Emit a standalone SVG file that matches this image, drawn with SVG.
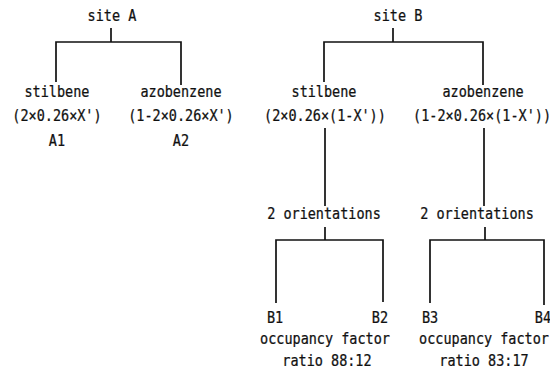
<svg xmlns="http://www.w3.org/2000/svg" width="550" height="369" viewBox="0 0 550 369">
<style>
text{font-family:"DejaVu Sans Mono","Liberation Mono",monospace;font-size:15px;fill:#111;stroke:#111;stroke-width:0.25;text-anchor:middle}
.c{fill:none;stroke:#111;stroke-width:1.7}
</style>
<rect width="550" height="369" fill="#fff"/>
<g id="connectors">
<path class="c" d="M111,28V42M56,82V42H181V85"/>
<path class="c" d="M393,28V42M324,82V42H483V85"/>
<path class="c" d="M325,128V206M484,128V206"/>
<path class="c" d="M325,227V240M276,303V240H383V302"/>
<path class="c" d="M485,227V240M430,303V240H544V305"/>
</g>
<g transform="scale(0.9 1)">
<g id="siteA"><text x="124.4" y="21">site A</text></g>
<g id="A1"><text x="63.3" y="97">stilbene</text><text x="63.3" y="121">(2×0.26×X')</text><text x="63.3" y="146">A1</text></g>
<g id="A2"><text x="201.1" y="97">azobenzene</text><text x="201.1" y="121">(1-2×0.26×X')</text><text x="201.1" y="146">A2</text></g>
<g id="siteB"><text x="442.2" y="21">site B</text></g>
<g id="stilbeneB"><text x="360" y="97">stilbene</text><text x="361.1" y="121">(2×0.26×(1-X'))</text></g>
<g id="azobenzeneB"><text x="536.7" y="97">azobenzene</text><text x="535.6" y="121">(1-2×0.26×(1-X'))</text></g>
<g id="orient1"><text x="360" y="219">2 orientations</text></g>
<g id="orient2"><text x="530" y="219">2 orientations</text></g>
<g id="B1"><text x="305.6" y="323">B1</text></g>
<g id="B2"><text x="422.2" y="323">B2</text></g>
<g id="B3"><text x="477.8" y="323">B3</text></g>
<g id="B4"><text x="603.3" y="323">B4</text></g>
<g id="ratio1"><text x="361.1" y="344">occupancy factor</text><text x="363.3" y="366">ratio 88:12</text></g>
<g id="ratio2"><text x="537.8" y="344">occupancy factor</text><text x="537.8" y="366">ratio 83:17</text></g>
</g>
</svg>
